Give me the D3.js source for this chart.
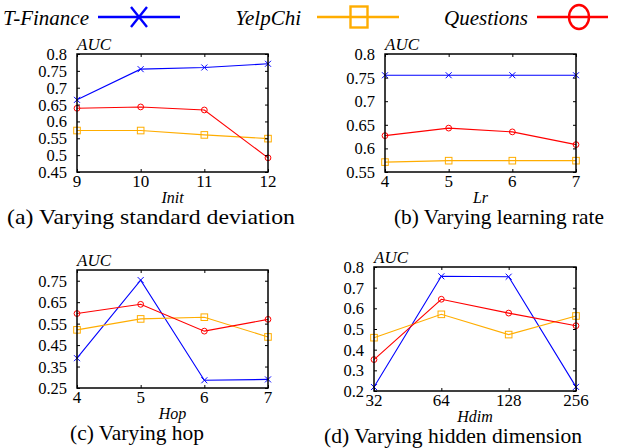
<!DOCTYPE html>
<html><head><meta charset="utf-8">
<script src="https://cdn.jsdelivr.net/npm/d3@7"></script>
<style>html,body{margin:0;padding:0;background:#fff;} svg{display:block;}</style>
</head><body>
<svg id="c" width="624" height="448" font-family="Liberation Serif"></svg>
<script>
// ---- data ----
const seriesNames = ["T-Finance", "YelpChi", "Questions"];
const seriesColors = ["#0000ff", "#ffad00", "#ff0000"];
const seriesMarkers = ["cross", "square", "circle"];

// (a) Varying standard deviation
const initCats = ["9", "10", "11", "12"];
const initTFinance = [0.664, 0.755, 0.760, 0.771];
const initYelpChi = [0.573, 0.573, 0.560, 0.549];
const initQuestions = [0.639, 0.643, 0.634, 0.492];
const initYTicks = [0.45, 0.5, 0.55, 0.6, 0.65, 0.7, 0.75, 0.8];

// (b) Varying learning rate
const lrCats = ["4", "5", "6", "7"];
const lrTFinance = [0.755, 0.755, 0.755, 0.755];
const lrYelpChi = [0.571, 0.574, 0.574, 0.574];
const lrQuestions = [0.627, 0.643, 0.635, 0.608];
const lrYTicks = [0.55, 0.6, 0.65, 0.7, 0.75, 0.8];

// (c) Varying hop
const hopCats = ["4", "5", "6", "7"];
const hopTFinance = [0.389, 0.753, 0.286, 0.290];
const hopYelpChi = [0.521, 0.572, 0.580, 0.488];
const hopQuestions = [0.597, 0.640, 0.515, 0.570];
const hopYTicks = [0.25, 0.35, 0.45, 0.55, 0.65, 0.75];

// (d) Varying hidden dimension
const hdimCats = ["32", "64", "128", "256"];
const hdimTFinance = [0.219, 0.755, 0.753, 0.220];
const hdimYelpChi = [0.458, 0.571, 0.473, 0.563];
const hdimQuestions = [0.352, 0.644, 0.577, 0.516];
const hdimYTicks = [0.2, 0.3, 0.4, 0.5, 0.6, 0.7, 0.8];

const panels = [
  {cats: initCats, series: [initTFinance, initYelpChi, initQuestions], yDomain: [0.45, 0.8], yTicks: initYTicks,
   box: [77, 54, 268, 172], xlabel: "Init", caption: "(a) Varying standard deviation", capX: 151, capW: 288},
  {cats: lrCats, series: [lrTFinance, lrYelpChi, lrQuestions], yDomain: [0.55, 0.8], yTicks: lrYTicks,
   box: [385, 54, 576, 172], xlabel: "Lr", caption: "(b) Varying learning rate", capX: 499, capW: 210},
  {cats: hopCats, series: [hopTFinance, hopYelpChi, hopQuestions], yDomain: [0.25, 0.8], yTicks: hopYTicks,
   box: [77, 270, 268, 388], xlabel: "Hop", caption: "(c) Varying hop", capX: 137, capW: 134},
  {cats: hdimCats, series: [hdimTFinance, hdimYelpChi, hdimQuestions], yDomain: [0.2, 0.8], yTicks: hdimYTicks,
   box: [374, 267, 576, 391], xlabel: "Hdim", caption: "(d) Varying hidden dimension", capX: 453, capW: 258}
];

const FONT = "\"Liberation Serif\"";
const svg = d3.select("#c");
const fmt = d => String(+d.toFixed(2));
const txt = (g) => g.append("text").attr("font-family", FONT).attr("fill", "#000");
// lock each label to its natural width
const fix = sel => { const n = sel.node(); const w = n.getComputedTextLength(); if (w > 0) sel.attr("textLength", w).attr("lengthAdjust", "spacingAndGlyphs"); return sel; };

function drawMarker(g, type, x, y, sx, sy, color, sw) {
  if (type === "cross") {
    g.append("path").attr("d", `M${x-sx},${y-sy}L${x+sx},${y+sy}M${x-sx},${y+sy}L${x+sx},${y-sy}`)
      .attr("stroke", color).attr("stroke-width", sw).attr("fill", "none");
  } else if (type === "square") {
    g.append("rect").attr("x", x-sx).attr("y", y-sy).attr("width", 2*sx).attr("height", 2*sy)
      .attr("stroke", color).attr("stroke-width", sw).attr("fill", "none");
  } else {
    g.append("ellipse").attr("cx", x).attr("cy", y).attr("rx", sx).attr("ry", sy)
      .attr("stroke", color).attr("stroke-width", sw).attr("fill", "none");
  }
}

panels.forEach(p => {
  const [l, t, r, b] = p.box;
  const x = d3.scalePoint().domain(p.cats).range([l, r]).padding(0);
  const y = d3.scaleLinear().domain(p.yDomain).range([b, t]);
  const g = svg.append("g");

  p.series.forEach((vals, i) => {
    const line = d3.line().x((d, j) => x(p.cats[j])).y(d => y(d));
    g.append("path").datum(vals).attr("d", line).attr("fill", "none")
      .attr("stroke", seriesColors[i]).attr("stroke-width", 1.1);
    const mg = g.append("g");
    const s = seriesMarkers[i] === "circle" ? 2.9 : (seriesMarkers[i] === "square" ? 3.3 : 3);
    vals.forEach((v, j) => drawMarker(mg, seriesMarkers[i], x(p.cats[j]), y(v), s, s, seriesColors[i], 1));
  });

  const ax = [
    g.append("g").attr("transform", `translate(${l},0)`).call(d3.axisRight(y).tickValues(p.yTicks).tickSize(3).tickFormat("")),
    g.append("g").attr("transform", `translate(${r},0)`).call(d3.axisLeft(y).tickValues(p.yTicks).tickSize(3).tickFormat("")),
    g.append("g").attr("transform", `translate(0,${b})`).call(d3.axisTop(x).tickSize(3).tickFormat("")),
    g.append("g").attr("transform", `translate(0,${t})`).call(d3.axisBottom(x).tickSize(3).tickFormat(""))
  ];
  ax.forEach(a => { a.select(".domain").remove(); a.attr("font-family", null); a.selectAll("line").attr("stroke", "#000").attr("stroke-width", 1); });

  g.append("rect").attr("x", l).attr("y", t).attr("width", r - l).attr("height", b - t)
    .attr("fill", "none").attr("stroke", "#000").attr("stroke-width", 1.5);

  p.yTicks.forEach(v => {
    fix(txt(g).attr("x", l - 10).attr("y", y(v) + 6).attr("text-anchor", "end")
      .attr("font-size", 16.5).text(fmt(v)));
  });
  p.cats.forEach(c => {
    fix(txt(g).attr("x", x(c)).attr("y", b + 15).attr("text-anchor", "middle")
      .attr("font-size", 17).text(c));
  });
  fix(txt(g).attr("x", l).attr("y", t - 4).attr("font-size", 17).attr("font-style", "italic").text("AUC"));
  fix(txt(g).attr("x", (l + r) / 2).attr("y", b + 31).attr("text-anchor", "middle")
    .attr("font-size", 16).attr("font-style", "italic").text(p.xlabel));
  txt(g).attr("x", p.capX - p.capW / 2).attr("y", b + 52)
    .attr("textLength", p.capW).attr("lengthAdjust", "spacingAndGlyphs")
    .attr("font-size", 21).text(p.caption);
});

// legend
const legendTextEnd = [89, 301, 528];
const legendLine = [[98, 180], [317, 399], [537, 608]];
const legendMarkX = [139, 359, 579];
const legendY = 17;
seriesNames.forEach((n, i) => {
  const lg = svg.append("g");
  fix(txt(lg).attr("x", legendTextEnd[i]).attr("y", 25).attr("text-anchor", "end")
    .attr("font-size", 21).attr("font-style", "italic").text(n));
  const [a, c] = legendLine[i];
  lg.append("line").attr("x1", a).attr("x2", c).attr("y1", legendY).attr("y2", legendY)
    .attr("stroke", seriesColors[i]).attr("stroke-width", 2.4);
  const sx = seriesMarkers[i] === "square" ? 8.5 : (seriesMarkers[i] === "circle" ? 10 : 8);
  const sy = seriesMarkers[i] === "square" ? 10.5 : (seriesMarkers[i] === "circle" ? 12 : 10);
  drawMarker(lg, seriesMarkers[i], legendMarkX[i], legendY, sx, sy, seriesColors[i], 2.4);
});
</script>
</body></html>
